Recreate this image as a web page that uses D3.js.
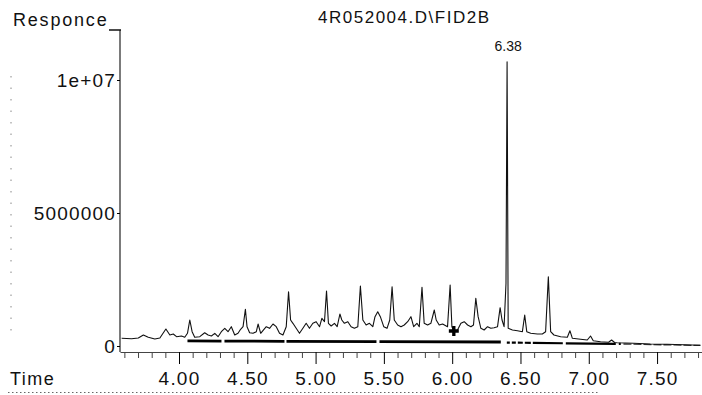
<!DOCTYPE html>
<html>
<head>
<meta charset="utf-8">
<script src="https://cdn.jsdelivr.net/npm/d3@7"></script>
<style>
  body { margin: 0; background: #fff; }
  svg { display: block; }
  text { font-family: "Liberation Sans", Arial, sans-serif; fill: #111; }
</style>
</head>
<body>
<svg id="chart"></svg>
<script>
const title = "4R052004.D\\FID2B"
const yTitle = "Responce"
const xTitle = "Time"
const peakLabel = { time: 6.402, value: 10680000, text: "6.38" }

const xMajorTicks = [4.0, 4.5, 5.0, 5.5, 6.0, 6.5, 7.0, 7.5]
const yTicks = [0, 5000000, 10000000]
const yTickLabels = ["0", "5000000", "1e+07"]

// retention time (min), response
const signal = [
    [3.58, 290000], [3.653, 274000], [3.702, 301000], [3.739, 414000], [3.775, 327000],
    [3.823, 263000], [3.860, 301000], [3.904, 639000], [3.933, 414000], [3.958, 451000],
    [3.982, 350000], [4.018, 376000], [4.042, 327000], [4.062, 477000], [4.079, 977000],
    [4.096, 538000], [4.115, 327000], [4.152, 350000], [4.188, 500000], [4.213, 414000],
    [4.237, 376000], [4.262, 477000], [4.286, 350000], [4.310, 538000], [4.335, 665000],
    [4.359, 538000], [4.383, 726000], [4.408, 414000], [4.432, 477000], [4.451, 628000],
    [4.469, 726000], [4.486, 1380000], [4.498, 726000], [4.517, 500000], [4.542, 477000],
    [4.566, 538000], [4.579, 827000], [4.598, 477000], [4.622, 628000], [4.639, 726000],
    [4.663, 665000], [4.688, 827000], [4.712, 726000], [4.736, 477000], [4.761, 414000],
    [4.785, 726000], [4.802, 2041000], [4.817, 977000], [4.834, 853000], [4.858, 665000],
    [4.882, 477000], [4.907, 665000], [4.931, 853000], [4.955, 665000], [4.980, 853000],
    [5.004, 914000], [5.029, 726000], [5.046, 1041000], [5.065, 914000], [5.080, 2068000],
    [5.094, 853000], [5.114, 752000], [5.138, 853000], [5.158, 726000], [5.178, 1203000],
    [5.192, 977000], [5.211, 853000], [5.236, 914000], [5.260, 726000], [5.284, 665000],
    [5.309, 726000], [5.328, 2256000], [5.346, 977000], [5.370, 789000], [5.394, 853000],
    [5.419, 726000], [5.435, 1102000], [5.455, 1289000], [5.474, 1102000], [5.499, 726000],
    [5.523, 665000], [5.543, 977000], [5.560, 2229000], [5.576, 977000], [5.601, 789000],
    [5.625, 726000], [5.649, 789000], [5.674, 914000], [5.698, 1102000], [5.718, 726000],
    [5.742, 853000], [5.759, 726000], [5.779, 2207000], [5.795, 853000], [5.820, 789000],
    [5.844, 853000], [5.869, 1353000], [5.883, 977000], [5.905, 789000], [5.930, 827000],
    [5.966, 726000], [5.985, 2293000], [5.998, 726000], [6.015, 538000], [6.039, 602000],
    [6.064, 853000], [6.088, 914000], [6.113, 789000], [6.137, 726000], [6.156, 789000],
    [6.173, 1793000], [6.190, 1102000], [6.210, 665000], [6.234, 602000], [6.259, 726000],
    [6.283, 665000], [6.307, 688000], [6.332, 726000], [6.351, 1440000], [6.365, 977000],
    [6.380, 726000], [6.394, 2357000], [6.402, 10680000], [6.410, 665000], [6.441, 602000],
    [6.478, 575000], [6.514, 538000], [6.531, 1165000], [6.546, 538000], [6.575, 477000],
    [6.624, 451000], [6.660, 451000], [6.684, 538000], [6.704, 2605000], [6.721, 538000],
    [6.745, 414000], [6.794, 350000], [6.843, 327000], [6.862, 575000], [6.880, 289000],
    [6.940, 252000], [6.989, 226000], [7.013, 376000], [7.033, 199000], [7.086, 162000],
    [7.145, 139000], [7.167, 226000], [7.189, 132000], [7.208, 124000], [7.329, 102000],
    [7.451, 75000], [7.573, 64000], [7.695, 49000], [7.817, 26000]
]

// integration baselines
const baselineA = [[4.062, 190000], [6.356, 150000]]
const baselineB = [[6.40, 130000], [7.254, 75000]]
const baselineTail = [[7.254, 75000], [7.817, 20000]]
const marker = [6.012, 564000]

const width = 702,
    height = 395

const svg = d3.select("#chart")
    .attr("width", width)
    .attr("height", height)

const x = d3.scaleLinear().domain([3.568, 7.829]).range([120, 702])
const y = d3.scaleLinear().domain([0, 10000000]).range([346, 80])

const line = d3.line()
    .x(d => x(d[0]))
    .y(d => y(d[1]))

// scanner dots down the left edge
svg.append("line")
    .attr("x1", 11).attr("x2", 11)
    .attr("y1", 76).attr("y2", 332)
    .attr("stroke", "#888")
    .attr("stroke-dasharray", "1.5,10")

// y axis
svg.append("line")
    .attr("x1", 120).attr("x2", 120)
    .attr("y1", 30).attr("y2", 352)
    .attr("stroke", "#222")
    .attr("stroke-width", 1.2)

const yAxis = svg.append("g")
    .attr("transform", "translate(120,0)")
    .call(d3.axisLeft(y)
        .tickValues(yTicks)
        .tickFormat((d, i) => yTickLabels[i])
        .tickSize(3)
        .tickPadding(1))
yAxis.select(".domain").remove()
yAxis.selectAll("text")
    .style("font-size", "19px")
    .style("letter-spacing", "1.2px")
    .attr("fill", "#111")

// x axis
const xAxis = svg.append("g")
    .attr("transform", "translate(0,352)")
    .call(d3.axisBottom(x)
        .tickValues(xMajorTicks)
        .tickSize(12)
        .tickSizeOuter(0)
        .tickFormat(d3.format(".2f")))
xAxis.select(".domain").attr("stroke", "#444")
xAxis.selectAll("text")
    .attr("y", 20)
    .style("font-size", "19px")
    .style("letter-spacing", "1.2px")
    .attr("fill", "#111")

const minorTicks = d3.range(3.6, 7.85, 0.1)
    .filter(t => !xMajorTicks.some(m => Math.abs(m - t) < 0.01))
const xMinor = svg.append("g")
    .attr("transform", "translate(0,352)")
    .call(d3.axisBottom(x)
        .tickValues(minorTicks)
        .tickSize(6)
        .tickFormat(""))
xMinor.select(".domain").remove()
xMinor.selectAll("line").attr("stroke", "#444")

// baselines
svg.append("path")
    .attr("d", line(baselineA))
    .attr("fill", "none")
    .attr("stroke", "#000")
    .attr("stroke-width", 2.8)
    .attr("stroke-dasharray", "34,3,60,2,90,3,140")

svg.append("path")
    .attr("d", line(baselineB))
    .attr("fill", "none")
    .attr("stroke", "#000")
    .attr("stroke-width", 2.2)
    .attr("stroke-dasharray", "3,2,4,2,5,2,6,2,30,3,50")

svg.append("path")
    .attr("d", line(baselineTail))
    .attr("fill", "none")
    .attr("stroke", "#333")
    .attr("stroke-width", 1.3)
    .attr("stroke-dasharray", "8,2")

// signal
svg.append("path")
    .attr("d", line(signal))
    .attr("fill", "none")
    .attr("stroke", "#111")
    .attr("stroke-width", 1.1)
    .attr("stroke-linejoin", "round")

svg.append("path")
    .attr("d", d3.symbol(d3.symbolCross, 55)())
    .attr("transform", `translate(${x(marker[0])},${y(marker[1])})`)
    .attr("fill", "#000")

svg.append("text")
    .attr("x", x(peakLabel.time) + 1)
    .attr("y", y(peakLabel.value) - 11)
    .attr("text-anchor", "middle")
    .style("font-size", "14px")
    .attr("fill", "#888")
    .text(peakLabel.text)

// titles
svg.append("text")
    .attr("x", 318)
    .attr("y", 23)
    .attr("textLength", 171)
    .attr("lengthAdjust", "spacing")
    .style("font-size", "17px")
    .text(title)

svg.append("text")
    .attr("x", 13)
    .attr("y", 26)
    .style("font-size", "18px")
    .style("letter-spacing", "1.8px")
    .attr("fill", "#222")
    .text(yTitle)

svg.append("line")
    .attr("x1", 109).attr("x2", 121)
    .attr("y1", 30).attr("y2", 30)
    .attr("stroke", "#111")
    .attr("stroke-width", 1.5)

svg.append("text")
    .attr("x", 10)
    .attr("y", 385)
    .style("font-size", "18px")
    .style("letter-spacing", "1.5px")
    .attr("fill", "#333")
    .text(xTitle)

svg.append("line")
    .attr("x1", 8).attr("x2", 600)
    .attr("y1", 392.5).attr("y2", 392.5)
    .attr("stroke", "#666")
    .attr("stroke-dasharray", "1.5,2.5")
</script>
</body>
</html>
